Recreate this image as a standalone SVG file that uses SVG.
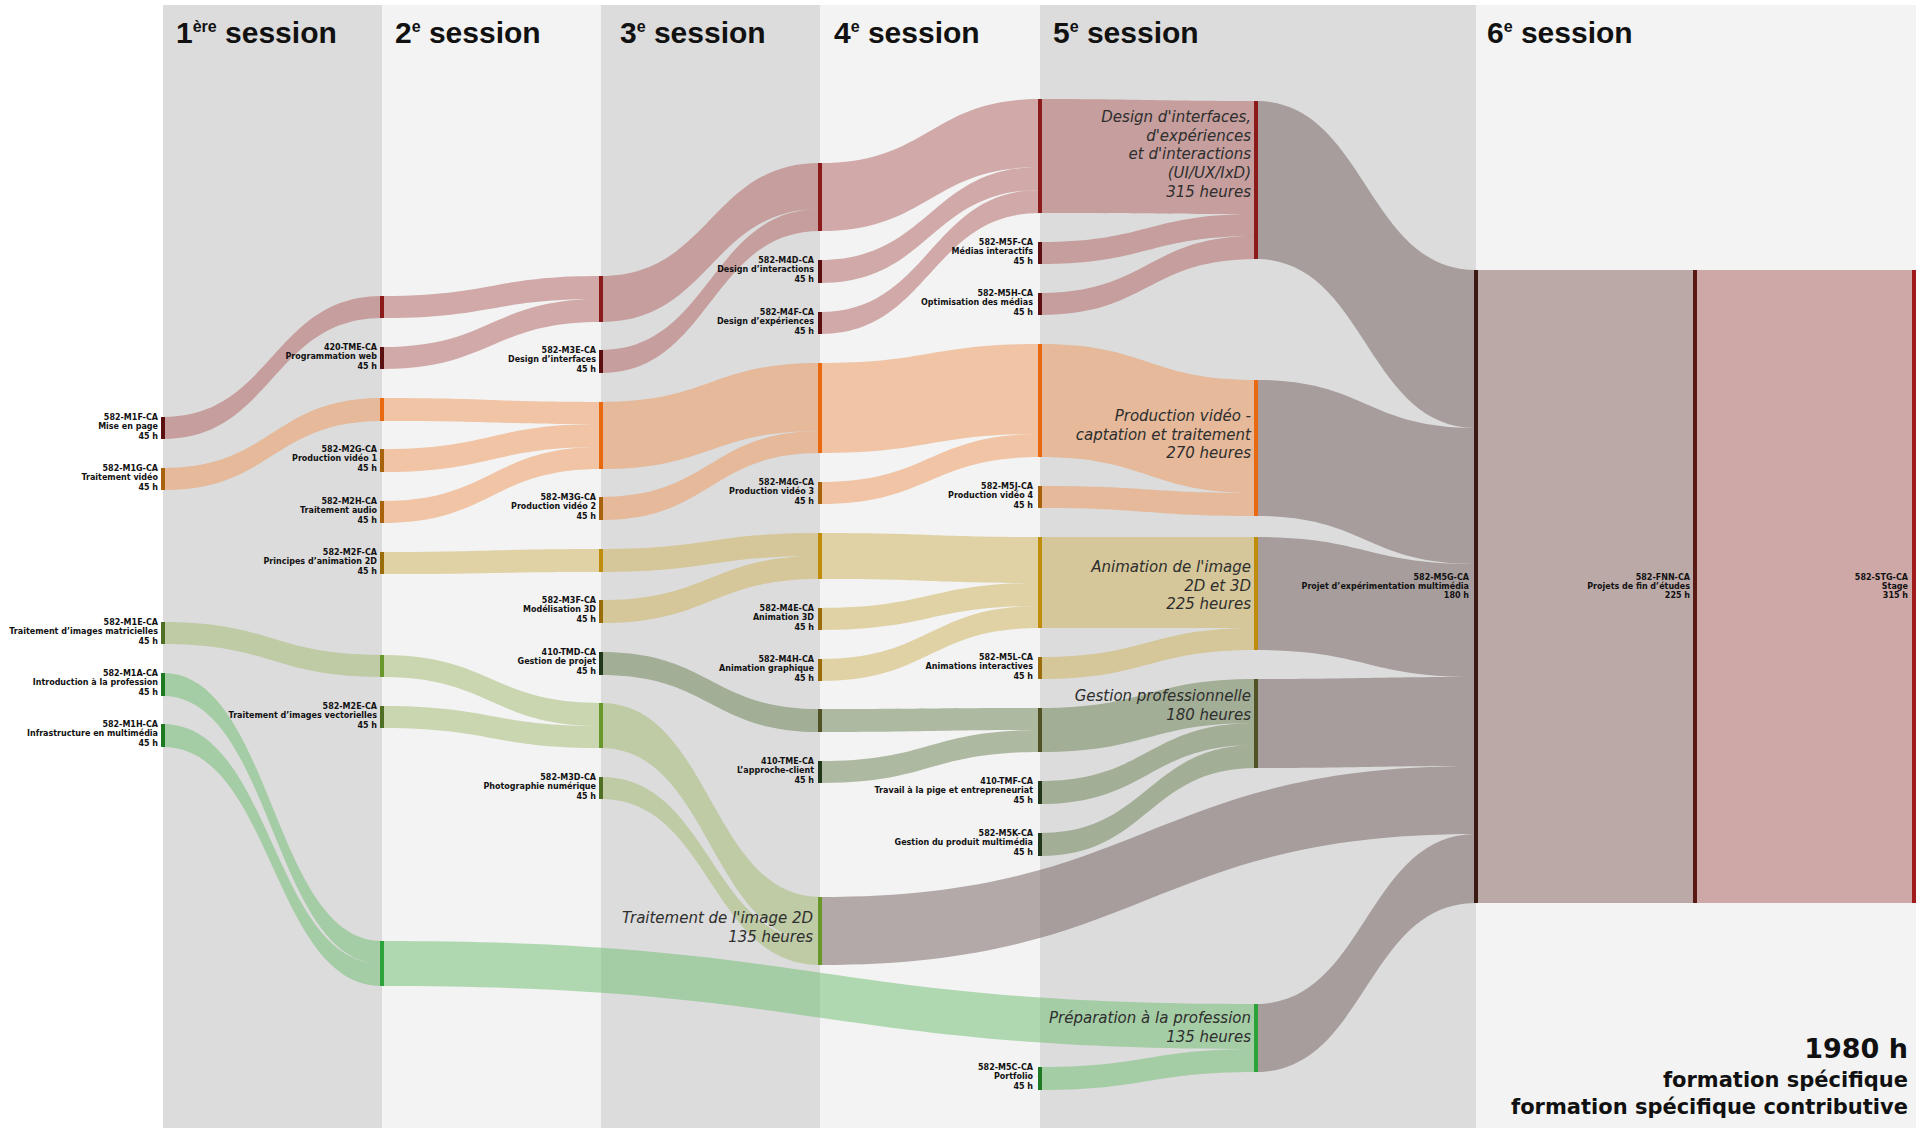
<svg xmlns="http://www.w3.org/2000/svg" width="1927" height="1128" viewBox="0 0 1927 1128">
<style>
.ttl{font-family:"Liberation Sans",Arial,sans-serif;font-weight:bold;font-size:30px;fill:#111}
.sup{font-size:16px}
.lbl{font-family:"DejaVu Sans","Liberation Sans",sans-serif;font-weight:bold;font-size:8px;fill:#111;text-anchor:end}
.sum{font-family:"DejaVu Sans","Liberation Sans",sans-serif;font-style:italic;font-weight:200;font-size:15px;fill:#2e2e2e;text-anchor:end}
.tot{font-family:"DejaVu Sans","Liberation Sans",sans-serif;font-weight:bold;fill:#111;text-anchor:end}
.f-r{fill:rgb(173,95,93);fill-opacity:.5}
.f-o{fill:rgb(237,149,85);fill-opacity:.5}
.f-g{fill:rgb(205,177,85);fill-opacity:.5}
.f-v{fill:rgb(159,185,109);fill-opacity:.5}
.f-d{fill:rgb(105,127,81);fill-opacity:.5}
.f-p{fill:rgb(109,189,109);fill-opacity:.5}
.f-x{fill:rgb(100,80,78);fill-opacity:.45}
.b-r{fill:#5c0f10}.b-R{fill:#8b1a1a}
.b-o{fill:#a9620c}.b-O{fill:#e8690f}
.b-g{fill:#9a6d0a}.b-G{fill:#bf8c0c}
.b-v{fill:#4f7024}.b-V{fill:#68982a}
.b-d{fill:#22361a}.b-D{fill:#4f5325}
.b-p{fill:#1e7a22}.b-P{fill:#2ba338}
</style>
<rect x="0" y="0" width="1927" height="1128" fill="#ffffff"/>
<g id="backgrounds">
<rect x="163" y="5" width="219" height="1123" fill="#dcdcdc"/>
<rect x="382" y="5" width="219" height="1123" fill="#f3f3f3"/>
<rect x="601" y="5" width="219" height="1123" fill="#dcdcdc"/>
<rect x="820" y="5" width="220" height="1123" fill="#f3f3f3"/>
<rect x="1040" y="5" width="436" height="1123" fill="#dcdcdc"/>
<rect x="1476" y="5" width="440" height="1123" fill="#f3f3f3"/>
</g>
<g id="titles">
<text class="ttl" x="176" y="43">1<tspan class="sup" dy="-11">ère</tspan><tspan dy="11"> session</tspan></text>
<text class="ttl" x="395" y="43">2<tspan class="sup" dy="-11">e</tspan><tspan dy="11"> session</tspan></text>
<text class="ttl" x="620" y="43">3<tspan class="sup" dy="-11">e</tspan><tspan dy="11"> session</tspan></text>
<text class="ttl" x="834" y="43">4<tspan class="sup" dy="-11">e</tspan><tspan dy="11"> session</tspan></text>
<text class="ttl" x="1053" y="43">5<tspan class="sup" dy="-11">e</tspan><tspan dy="11"> session</tspan></text>
<text class="ttl" x="1487" y="43">6<tspan class="sup" dy="-11">e</tspan><tspan dy="11"> session</tspan></text>
</g>
<g id="connectors">
<path class="f-r" d="M163,417 C272.5,417 272.5,296 382,296 L382,318 C272.5,318 272.5,439 163,439 Z"/>
<path class="f-r" d="M382,296 C491.5,296 491.5,276 601,276 L601,299 C491.5,299 491.5,318 382,318 Z"/>
<path class="f-r" d="M382,347 C491.5,347 491.5,299 601,299 L601,322 C491.5,322 491.5,369 382,369 Z"/>
<path class="f-r" d="M601,276 C710.5,276 710.5,163 820,163 L820,209 C710.5,209 710.5,322 601,322 Z"/>
<path class="f-r" d="M601,350 C710.5,350 710.5,209 820,209 L820,231 C710.5,231 710.5,373 601,373 Z"/>
<path class="f-r" d="M820,163 C930,163 930,99 1040,99 L1040,167 C930,167 930,231 820,231 Z"/>
<path class="f-r" d="M820,260 C930,260 930,167 1040,167 L1040,190 C930,190 930,283 820,283 Z"/>
<path class="f-r" d="M820,312 C930,312 930,190 1040,190 L1040,213 C930,213 930,334 820,334 Z"/>
<path class="f-r" d="M1040,99 C1148,99 1148,101 1256,101 L1256,214 C1148,214 1148,213 1040,213 Z"/>
<path class="f-r" d="M1040,242 C1148,242 1148,214 1256,214 L1256,236 C1148,236 1148,264 1040,264 Z"/>
<path class="f-r" d="M1040,293 C1148,293 1148,236 1256,236 L1256,259 C1148,259 1148,315 1040,315 Z"/>
<path class="f-o" d="M163,468 C272.5,468 272.5,398 382,398 L382,421 C272.5,421 272.5,490 163,490 Z"/>
<path class="f-o" d="M382,398 C491.5,398 491.5,402 601,402 L601,424 C491.5,424 491.5,421 382,421 Z"/>
<path class="f-o" d="M382,449 C491.5,449 491.5,424 601,424 L601,447 C491.5,447 491.5,472 382,472 Z"/>
<path class="f-o" d="M382,501 C491.5,501 491.5,447 601,447 L601,469 C491.5,469 491.5,523 382,523 Z"/>
<path class="f-o" d="M601,402 C710.5,402 710.5,363 820,363 L820,431 C710.5,431 710.5,469 601,469 Z"/>
<path class="f-o" d="M601,497 C710.5,497 710.5,431 820,431 L820,453 C710.5,453 710.5,520 601,520 Z"/>
<path class="f-o" d="M820,363 C930,363 930,344 1040,344 L1040,434 C930,434 930,453 820,453 Z"/>
<path class="f-o" d="M820,482 C930,482 930,434 1040,434 L1040,457 C930,457 930,504 820,504 Z"/>
<path class="f-o" d="M1040,344 C1148,344 1148,380 1256,380 L1256,493 C1148,493 1148,457 1040,457 Z"/>
<path class="f-o" d="M1040,486 C1148,486 1148,493 1256,493 L1256,516 C1148,516 1148,508 1040,508 Z"/>
<path class="f-g" d="M382,552 C491.5,552 491.5,549 601,549 L601,572 C491.5,572 491.5,574 382,574 Z"/>
<path class="f-g" d="M601,549 C710.5,549 710.5,533 820,533 L820,556 C710.5,556 710.5,572 601,572 Z"/>
<path class="f-g" d="M601,600 C710.5,600 710.5,556 820,556 L820,579 C710.5,579 710.5,623 601,623 Z"/>
<path class="f-g" d="M820,533 C930,533 930,537 1040,537 L1040,583 C930,583 930,579 820,579 Z"/>
<path class="f-g" d="M820,608 C930,608 930,583 1040,583 L1040,606 C930,606 930,630 820,630 Z"/>
<path class="f-g" d="M820,659 C930,659 930,606 1040,606 L1040,628 C930,628 930,681 820,681 Z"/>
<path class="f-g" d="M1040,537 C1148,537 1148,537 1256,537 L1256,628 C1148,628 1148,628 1040,628 Z"/>
<path class="f-g" d="M1040,657 C1148,657 1148,628 1256,628 L1256,650 C1148,650 1148,679 1040,679 Z"/>
<path class="f-v" d="M163,622 C272.5,622 272.5,655 382,655 L382,677 C272.5,677 272.5,644 163,644 Z"/>
<path class="f-v" d="M382,655 C491.5,655 491.5,703 601,703 L601,726 C491.5,726 491.5,677 382,677 Z"/>
<path class="f-v" d="M382,706 C491.5,706 491.5,726 601,726 L601,748 C491.5,748 491.5,728 382,728 Z"/>
<path class="f-v" d="M601,703 C710.5,703 710.5,897 820,897 L820,942 C710.5,942 710.5,748 601,748 Z"/>
<path class="f-v" d="M601,777 C710.5,777 710.5,942 820,942 L820,965 C710.5,965 710.5,799 601,799 Z"/>
<path class="f-d" d="M601,652 C710.5,652 710.5,709 820,709 L820,732 C710.5,732 710.5,675 601,675 Z"/>
<path class="f-d" d="M820,709 C930,709 930,708 1040,708 L1040,730 C930,730 930,732 820,732 Z"/>
<path class="f-d" d="M820,761 C930,761 930,730 1040,730 L1040,752 C930,752 930,783 820,783 Z"/>
<path class="f-d" d="M1040,708 C1148,708 1148,679 1256,679 L1256,723 C1148,723 1148,752 1040,752 Z"/>
<path class="f-d" d="M1040,781 C1148,781 1148,723 1256,723 L1256,745 C1148,745 1148,804 1040,804 Z"/>
<path class="f-d" d="M1040,833 C1148,833 1148,745 1256,745 L1256,768 C1148,768 1148,856 1040,856 Z"/>
<path class="f-p" d="M163,673 C272.5,673 272.5,941 382,941 L382,964 C272.5,964 272.5,696 163,696 Z"/>
<path class="f-p" d="M163,724 C272.5,724 272.5,964 382,964 L382,986 C272.5,986 272.5,747 163,747 Z"/>
<path class="f-p" d="M382,941 C819,941 819,1004 1256,1004 L1256,1049 C819,1049 819,986 382,986 Z"/>
<path class="f-p" d="M1040,1067 C1148,1067 1148,1049 1256,1049 L1256,1072 C1148,1072 1148,1090 1040,1090 Z"/>
<path class="f-x" d="M1256,101 C1366,101 1366,270 1476,270 L1476,428 C1366,428 1366,259 1256,259 Z"/>
<path class="f-x" d="M1256,380 C1366,380 1366,428 1476,428 L1476,564 C1366,564 1366,516 1256,516 Z"/>
<path class="f-x" d="M1256,537 C1366,537 1366,564 1476,564 L1476,677 C1366,677 1366,650 1256,650 Z"/>
<path class="f-x" d="M1256,679 C1366,679 1366,677 1476,677 L1476,766 C1366,766 1366,768 1256,768 Z"/>
<path class="f-x" d="M820,897 C1148,897 1148,766 1476,766 L1476,834 C1148,834 1148,965 820,965 Z"/>
<path class="f-x" d="M1256,1004 C1366,1004 1366,834 1476,834 L1476,903 C1366,903 1366,1072 1256,1072 Z"/>
<path d="M1476,270 L1695,270 L1695,903 L1476,903 Z" fill="#bba9a8"/>
<path d="M1695,270 L1914,270 L1914,903 L1695,903 Z" fill="#cea8a6"/>
</g>
<g id="n-M1F"><rect class="b-r" x="161" y="417" width="4" height="22"/><text class="lbl" x="158" y="420">582-M1F-CA<tspan x="158" dy="9.3">Mise en page</tspan><tspan x="158" dy="9.3">45 h</tspan></text></g>
<g id="n-M1G"><rect class="b-o" x="161" y="468" width="4" height="22"/><text class="lbl" x="158" y="471">582-M1G-CA<tspan x="158" dy="9.3">Traitement vidéo</tspan><tspan x="158" dy="9.3">45 h</tspan></text></g>
<g id="n-M1E"><rect class="b-v" x="161" y="622" width="4" height="22"/><text class="lbl" x="158" y="625">582-M1E-CA<tspan x="158" dy="9.3">Traitement d’images matricielles</tspan><tspan x="158" dy="9.3">45 h</tspan></text></g>
<g id="n-M1A"><rect class="b-p" x="161" y="673" width="4" height="23"/><text class="lbl" x="158" y="676">582-M1A-CA<tspan x="158" dy="9.3">Introduction à la profession</tspan><tspan x="158" dy="9.3">45 h</tspan></text></g>
<g id="n-M1H"><rect class="b-p" x="161" y="724" width="4" height="23"/><text class="lbl" x="158" y="727">582-M1H-CA<tspan x="158" dy="9.3">Infrastructure en multimédia</tspan><tspan x="158" dy="9.3">45 h</tspan></text></g>
<g id="s2-r"><rect class="b-R" x="380" y="296" width="4" height="22"/></g>
<g id="n-420TME"><rect class="b-r" x="380" y="347" width="4" height="22"/><text class="lbl" x="377" y="350">420-TME-CA<tspan x="377" dy="9.3">Programmation web</tspan><tspan x="377" dy="9.3">45 h</tspan></text></g>
<g id="s2-o"><rect class="b-O" x="380" y="398" width="4" height="23"/></g>
<g id="n-M2G"><rect class="b-o" x="380" y="449" width="4" height="23"/><text class="lbl" x="377" y="452">582-M2G-CA<tspan x="377" dy="9.3">Production vidéo 1</tspan><tspan x="377" dy="9.3">45 h</tspan></text></g>
<g id="n-M2H"><rect class="b-o" x="380" y="501" width="4" height="22"/><text class="lbl" x="377" y="504">582-M2H-CA<tspan x="377" dy="9.3">Traitement audio</tspan><tspan x="377" dy="9.3">45 h</tspan></text></g>
<g id="n-M2F"><rect class="b-g" x="380" y="552" width="4" height="22"/><text class="lbl" x="377" y="555">582-M2F-CA<tspan x="377" dy="9.3">Principes d’animation 2D</tspan><tspan x="377" dy="9.3">45 h</tspan></text></g>
<g id="s2-v"><rect class="b-V" x="380" y="655" width="4" height="22"/></g>
<g id="n-M2E"><rect class="b-v" x="380" y="706" width="4" height="22"/><text class="lbl" x="377" y="709">582-M2E-CA<tspan x="377" dy="9.3">Traitement d’images vectorielles</tspan><tspan x="377" dy="9.3">45 h</tspan></text></g>
<g id="s2-p"><rect class="b-P" x="380" y="941" width="4" height="45"/></g>
<g id="s3-r"><rect class="b-R" x="599" y="276" width="4" height="46"/></g>
<g id="n-M3E"><rect class="b-r" x="599" y="350" width="4" height="23"/><text class="lbl" x="596" y="353">582-M3E-CA<tspan x="596" dy="9.3">Design d’interfaces</tspan><tspan x="596" dy="9.3">45 h</tspan></text></g>
<g id="s3-o"><rect class="b-O" x="599" y="402" width="4" height="67"/></g>
<g id="n-M3G"><rect class="b-o" x="599" y="497" width="4" height="23"/><text class="lbl" x="596" y="500">582-M3G-CA<tspan x="596" dy="9.3">Production vidéo 2</tspan><tspan x="596" dy="9.3">45 h</tspan></text></g>
<g id="s3-g"><rect class="b-G" x="599" y="549" width="4" height="23"/></g>
<g id="n-M3F"><rect class="b-g" x="599" y="600" width="4" height="23"/><text class="lbl" x="596" y="603">582-M3F-CA<tspan x="596" dy="9.3">Modélisation 3D</tspan><tspan x="596" dy="9.3">45 h</tspan></text></g>
<g id="n-TMD"><rect class="b-d" x="599" y="652" width="4" height="23"/><text class="lbl" x="596" y="655">410-TMD-CA<tspan x="596" dy="9.3">Gestion de projet</tspan><tspan x="596" dy="9.3">45 h</tspan></text></g>
<g id="s3-v"><rect class="b-V" x="599" y="703" width="4" height="45"/></g>
<g id="n-M3D"><rect class="b-v" x="599" y="777" width="4" height="22"/><text class="lbl" x="596" y="780">582-M3D-CA<tspan x="596" dy="9.3">Photographie numérique</tspan><tspan x="596" dy="9.3">45 h</tspan></text></g>
<g id="s4-r"><rect class="b-R" x="818" y="163" width="4" height="68"/></g>
<g id="n-M4D"><rect class="b-r" x="818" y="260" width="4" height="23"/><text class="lbl" x="814" y="263">582-M4D-CA<tspan x="814" dy="9.3">Design d’interactions</tspan><tspan x="814" dy="9.3">45 h</tspan></text></g>
<g id="n-M4F"><rect class="b-r" x="818" y="312" width="4" height="22"/><text class="lbl" x="814" y="315">582-M4F-CA<tspan x="814" dy="9.3">Design d’expériences</tspan><tspan x="814" dy="9.3">45 h</tspan></text></g>
<g id="s4-o"><rect class="b-O" x="818" y="363" width="4" height="90"/></g>
<g id="n-M4G"><rect class="b-o" x="818" y="482" width="4" height="22"/><text class="lbl" x="814" y="485">582-M4G-CA<tspan x="814" dy="9.3">Production vidéo 3</tspan><tspan x="814" dy="9.3">45 h</tspan></text></g>
<g id="s4-g"><rect class="b-G" x="818" y="533" width="4" height="46"/></g>
<g id="n-M4E"><rect class="b-g" x="818" y="608" width="4" height="22"/><text class="lbl" x="814" y="611">582-M4E-CA<tspan x="814" dy="9.3">Animation 3D</tspan><tspan x="814" dy="9.3">45 h</tspan></text></g>
<g id="n-M4H"><rect class="b-g" x="818" y="659" width="4" height="22"/><text class="lbl" x="814" y="662">582-M4H-CA<tspan x="814" dy="9.3">Animation graphique</tspan><tspan x="814" dy="9.3">45 h</tspan></text></g>
<g id="s4-d"><rect class="b-D" x="818" y="709" width="4" height="23"/></g>
<g id="n-TME410"><rect class="b-d" x="818" y="761" width="4" height="22"/><text class="lbl" x="814" y="764">410-TME-CA<tspan x="814" dy="9.3">L’approche-client</tspan><tspan x="814" dy="9.3">45 h</tspan></text></g>
<g id="sum-T2D"><rect class="b-V" x="818" y="897" width="4" height="68"/><text class="sum" x="813" y="923">Traitement de l'image 2D<tspan x="813" dy="18.5">135 heures</tspan></text></g>
<g id="s5-r"><rect class="b-R" x="1038" y="99" width="4" height="114"/></g>
<g id="n-M5F"><rect class="b-r" x="1038" y="242" width="4" height="22"/><text class="lbl" x="1033" y="245">582-M5F-CA<tspan x="1033" dy="9.3">Médias interactifs</tspan><tspan x="1033" dy="9.3">45 h</tspan></text></g>
<g id="n-M5H"><rect class="b-r" x="1038" y="293" width="4" height="22"/><text class="lbl" x="1033" y="296">582-M5H-CA<tspan x="1033" dy="9.3">Optimisation des médias</tspan><tspan x="1033" dy="9.3">45 h</tspan></text></g>
<g id="s5-o"><rect class="b-O" x="1038" y="344" width="4" height="113"/></g>
<g id="n-M5J"><rect class="b-o" x="1038" y="486" width="4" height="22"/><text class="lbl" x="1033" y="489">582-M5J-CA<tspan x="1033" dy="9.3">Production vidéo 4</tspan><tspan x="1033" dy="9.3">45 h</tspan></text></g>
<g id="s5-g"><rect class="b-G" x="1038" y="537" width="4" height="91"/></g>
<g id="n-M5L"><rect class="b-g" x="1038" y="657" width="4" height="22"/><text class="lbl" x="1033" y="660">582-M5L-CA<tspan x="1033" dy="9.3">Animations interactives</tspan><tspan x="1033" dy="9.3">45 h</tspan></text></g>
<g id="s5-d"><rect class="b-D" x="1038" y="708" width="4" height="44"/></g>
<g id="n-TMF"><rect class="b-d" x="1038" y="781" width="4" height="23"/><text class="lbl" x="1033" y="784">410-TMF-CA<tspan x="1033" dy="9.3">Travail à la pige et entrepreneuriat</tspan><tspan x="1033" dy="9.3">45 h</tspan></text></g>
<g id="n-M5K"><rect class="b-d" x="1038" y="833" width="4" height="23"/><text class="lbl" x="1033" y="836">582-M5K-CA<tspan x="1033" dy="9.3">Gestion du produit multimédia</tspan><tspan x="1033" dy="9.3">45 h</tspan></text></g>
<g id="n-M5C"><rect class="b-p" x="1038" y="1067" width="4" height="23"/><text class="lbl" x="1033" y="1070">582-M5C-CA<tspan x="1033" dy="9.3">Portfolio</tspan><tspan x="1033" dy="9.3">45 h</tspan></text></g>
<g id="sum-design"><rect class="b-R" x="1254" y="101" width="4" height="158"/><text class="sum" x="1251" y="122">Design d'interfaces,<tspan x="1251" dy="18.7">d'expériences</tspan><tspan x="1251" dy="18.7">et d'interactions</tspan><tspan x="1251" dy="18.7">(UI/UX/IxD)</tspan><tspan x="1251" dy="18.7">315 heures</tspan></text></g>
<g id="sum-prod"><rect class="b-O" x="1254" y="380" width="4" height="136"/><text class="sum" x="1251" y="421">Production vidéo -<tspan x="1251" dy="18.7">captation et traitement</tspan><tspan x="1251" dy="18.7">270 heures</tspan></text></g>
<g id="sum-anim"><rect class="b-G" x="1254" y="537" width="4" height="113"/><text class="sum" x="1251" y="572">Animation de l'image<tspan x="1251" dy="18.7">2D et 3D</tspan><tspan x="1251" dy="18.7">225 heures</tspan></text></g>
<g id="sum-gest"><rect class="b-D" x="1254" y="679" width="4" height="89"/><text class="sum" x="1251" y="701">Gestion professionnelle<tspan x="1251" dy="18.7">180 heures</tspan></text></g>
<g id="sum-prep"><rect class="b-P" x="1254" y="1004" width="4" height="68"/><text class="sum" x="1251" y="1023">Préparation à la profession<tspan x="1251" dy="18.7">135 heures</tspan></text></g>
<g id="n-M5G"><rect x="1474" y="270" width="4" height="633" fill="#3b1a14"/><text class="lbl" x="1469" y="580">582-M5G-CA<tspan x="1469" dy="9">Projet d’expérimentation multimédia</tspan><tspan x="1469" dy="9">180 h</tspan></text></g>
<g id="n-FNN"><rect x="1693" y="270" width="4" height="633" fill="#5a1a14"/><text class="lbl" x="1690" y="580">582-FNN-CA<tspan x="1690" dy="9">Projets de fin d’études</tspan><tspan x="1690" dy="9">225 h</tspan></text></g>
<g id="n-STG"><rect x="1912" y="270" width="4" height="633" fill="#a01c1c"/><text class="lbl" x="1908" y="580">582-STG-CA<tspan x="1908" dy="9">Stage</tspan><tspan x="1908" dy="9">315 h</tspan></text></g>
<g id="total">
<text class="tot" x="1908" y="1058" font-size="27">1980 h</text>
<text class="tot" x="1908" y="1087" font-size="21">formation spécifique</text>
<text class="tot" x="1908" y="1114" font-size="21">formation spécifique contributive</text>
</g>
</svg>
